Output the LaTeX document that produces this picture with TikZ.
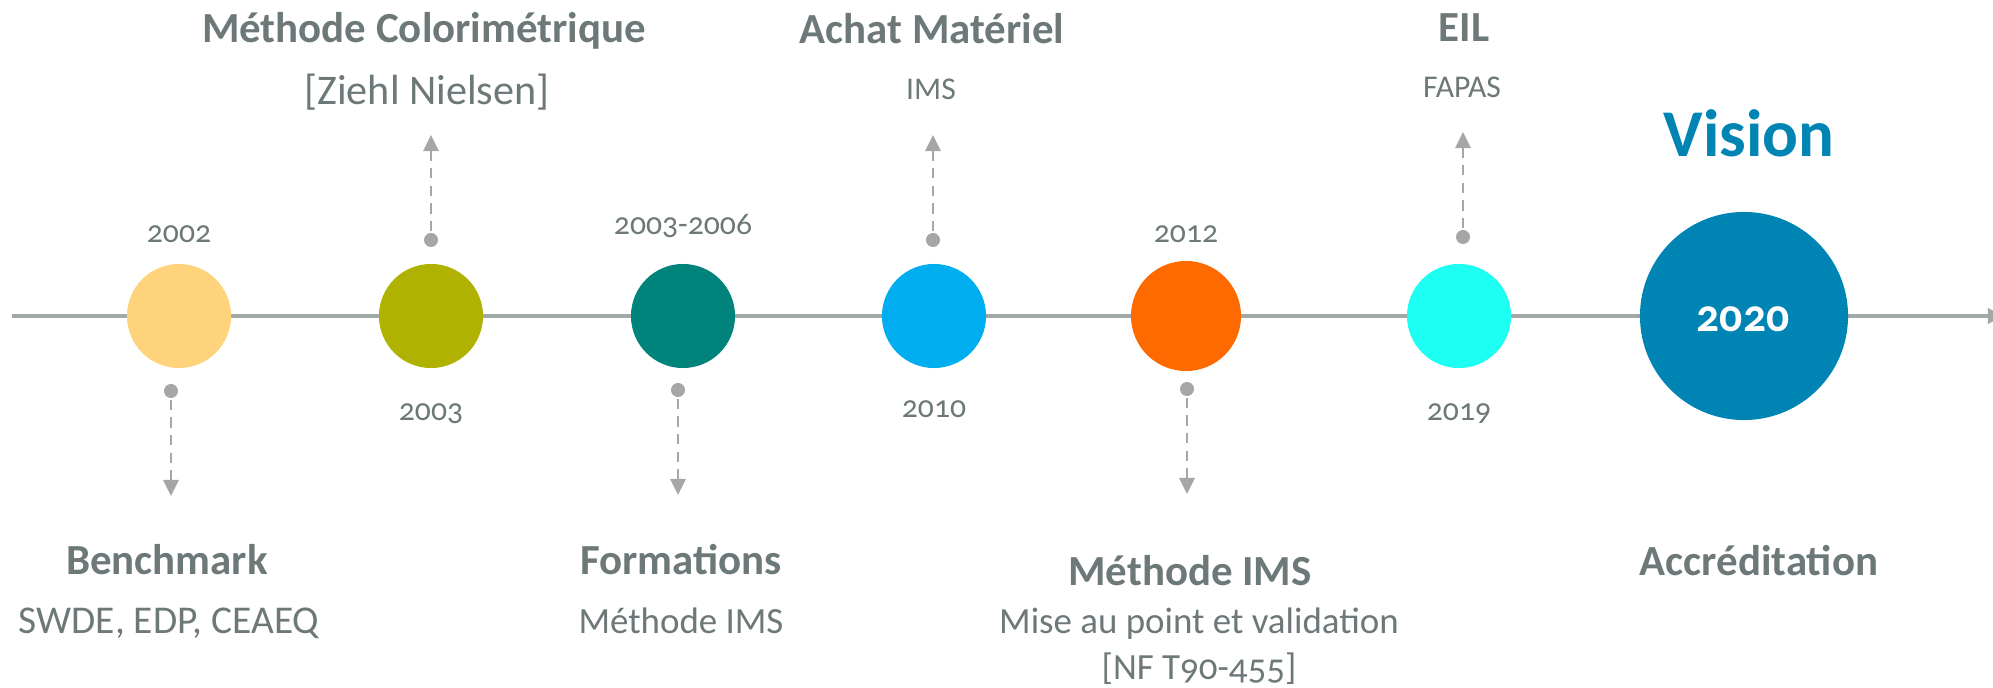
\documentclass[tikz,border=0pt]{standalone}
\usepackage{fontspec}
\setmainfont{Carlito}[Numbers=OldStyle]
\usepackage{tikz}
\usetikzlibrary{arrows.meta}
\definecolor{txtgray}{HTML}{6D7878}
\definecolor{linegray}{HTML}{A0A9A6}
\definecolor{pingray}{HTML}{A6A6A6}
\definecolor{cyellow}{HTML}{FFD37C}
\definecolor{colive}{HTML}{AFB200}
\definecolor{cteal}{HTML}{00837A}
\definecolor{csky}{HTML}{00AEEF}
\definecolor{corange}{HTML}{FF6A00}
\definecolor{ccyan}{HTML}{1EFFF3}
\definecolor{cvision}{HTML}{0084B4}
\tikzstyle{event}=[circle,draw=none,inner sep=0mm,minimum size=10.4mm]
\tikzstyle{date}=[text=txtgray,anchor=base,inner sep=0mm,font=\fontsize{9}{10}\selectfont]
\tikzstyle{title}=[text=txtgray,anchor=base,inner sep=0mm,font=\bfseries\fontsize{12.2}{14}\selectfont]
\tikzstyle{detail}=[text=txtgray,anchor=base,inner sep=0mm,font=\fontsize{10.5}{12}\selectfont]
\tikzstyle{dot}=[circle,fill=pingray,inner sep=0mm,minimum size=1.4mm]
\tikzstyle{pin}=[draw=pingray,line width=0.6pt,dash pattern=on 3pt off 2pt,-{Triangle[length=4.6pt,width=4.4pt]}]
\tikzset{every picture/.style={
    line width=1
  }
}

\begin{document}
\begin{tikzpicture}[x=0.01cm,y=-0.01cm]
      \useasboundingbox (0,0) rectangle (1993,688);
      % timeline
      \coordinate (t0) at (12,316);
      \coordinate (t1) at (2003,316);
      \draw[draw=linegray,line width=1.15pt,-{Triangle[length=4.3pt,width=4.3pt]}] (t0)--(t1);
      \node[event,fill=cyellow] at (179,316) (e1) {};
      \node[event,fill=colive] at (431,316) (e2) {};
      \node[event,fill=cteal] at (683,316) (e3) {};
      \node[event,fill=csky] at (934,316) (e4) {};
      \node[event,fill=corange,minimum size=11mm] at (1186,316) (e5) {};
      \node[event,fill=ccyan] at (1459,316) (e6) {};
      \node[event,fill=cvision,minimum size=20.8mm] at (1744,316) (e7) {};
      \node[anchor=base,inner sep=0mm,text=white,font=\bfseries\fontsize{13}{14}\selectfont] at (1743,332) (n7) {2020};
      % years
      \node[date] at (179,242) (y1) {2002};
      \node[date] at (431,420) (y2) {2003};
      \node[date] at (683,235) (y3) {2003-2006};
      \node[date] at (934,418) (y4) {2010};
      \node[date] at (1186,242) (y5) {2012};
      \node[date] at (1459,420) (y6) {2019};
      % pins
      \node[dot] at (171,391) (d1) {};
      \node[dot] at (431,240) (d2) {};
      \node[dot] at (678,390) (d3) {};
      \node[dot] at (933,240) (d4) {};
      \node[dot] at (1187,389) (d5) {};
      \node[dot] at (1463,237) (d6) {};
      \coordinate (p1) at (171,496);
      \coordinate (p2) at (431,135);
      \coordinate (p3) at (678,495);
      \coordinate (p4) at (933,135);
      \coordinate (p5) at (1187,494);
      \coordinate (p6) at (1463,132);
      \draw[pin] (d1)--(p1);
      \draw[pin] (d2)--(p2);
      \draw[pin] (d3)--(p3);
      \draw[pin] (d4)--(p4);
      \draw[pin] (d5)--(p5);
      \draw[pin] (d6)--(p6);
      % labels above
      \node[title] at (424,43) (a2) {Méthode Colorimétrique};
      \node[detail,font=\fontsize{12}{14}\selectfont] at (427,105) (b2) {[Ziehl Nielsen]};
      \node[title] at (932,44) (a4) {Achat Matériel};
      \node[detail,font=\fontsize{9}{10}\selectfont] at (931,100) (b4) {IMS};
      \node[title] at (1464,42) (a6) {EIL};
      \node[detail,font=\fontsize{9}{10}\selectfont] at (1462,98) (b6) {FAPAS};
      \node[title,text=cvision,font=\bfseries\fontsize{19}{21}\selectfont] at (1749,157) (a7) {Vision};
      % labels below
      \node[title] at (167,574) (a1) {Benchmark};
      \node[detail,font=\fontsize{11.2}{13}\selectfont] at (169,633) (b1) {SWDE, EDP, CEAEQ};
      \node[title] at (681,574) (a3) {Formations};
      \node[detail] at (681,633) (b3) {Méthode IMS};
      \node[title] at (1190,585) (a5) {Méthode IMS};
      \node[detail] at (1199,633) (b5) {Mise au point et validation};
      \node[detail] at (1199,679) (c5) {[NF T90-455]};
      \node[title] at (1759,575) (a8) {Accréditation};
    \end{tikzpicture}
\end{document}
